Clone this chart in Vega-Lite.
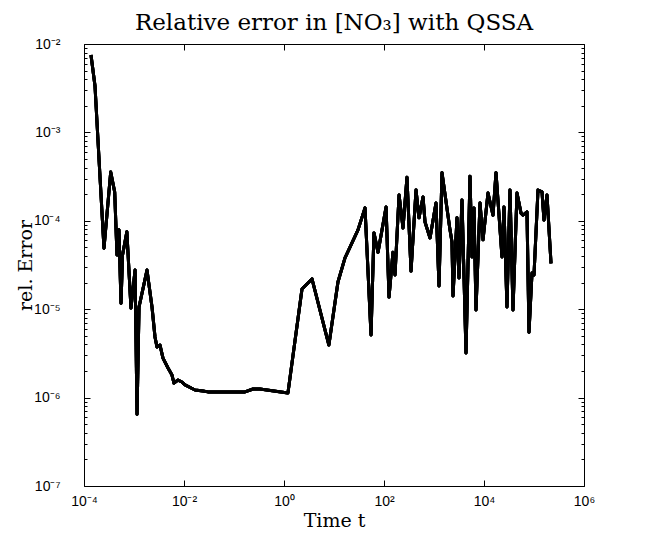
{
  "$schema": "https://vega.github.io/schema/vega-lite/v6.json",
  "autosize": {"type": "none"},
  "width": 500,
  "height": 442,
  "padding": {"left": 84, "top": 44, "right": 62, "bottom": 54},
  "background": "white",
  "title": {"text": "Relative error in [NO₃] with QSSA", "font": "DejaVu Serif", "fontSize": 23, "fontWeight": "normal", "color": "black", "offset": 2, "anchor": "middle"},
  "config": {
    "view": {"stroke": null},
    "axis": {"domainColor": "black", "tickColor": "black", "labelColor": "black", "grid": false, "labelFont": "Liberation Sans", "labelFontSize": 14, "titleFont": "DejaVu Serif", "titleFontSize": 19, "titleFontWeight": "normal", "titleColor": "black", "domainWidth": 1, "tickWidth": 1}
  },
  "data": {"values": [
    {"t": 1.38e-4, "err": 7.5e-3},
    {"t": 1.66e-4, "err": 3.35e-3},
    {"t": 2.0e-4, "err": 4.9e-4},
    {"t": 2.51e-4, "err": 4.9e-5},
    {"t": 3.42e-4, "err": 3.56e-4},
    {"t": 4.11e-4, "err": 2.12e-4},
    {"t": 4.57e-4, "err": 4.1e-5},
    {"t": 5.0e-4, "err": 7.9e-5},
    {"t": 5.5e-4, "err": 1.17e-5},
    {"t": 5.9e-4, "err": 4.1e-5},
    {"t": 7.2e-4, "err": 7.5e-5},
    {"t": 8.7e-4, "err": 1.03e-5},
    {"t": 1.05e-3, "err": 2.77e-5},
    {"t": 1.15e-3, "err": 6.5e-7},
    {"t": 1.26e-3, "err": 1.06e-5},
    {"t": 1.82e-3, "err": 2.77e-5},
    {"t": 2.29e-3, "err": 1.06e-5},
    {"t": 2.63e-3, "err": 4.85e-6},
    {"t": 2.88e-3, "err": 3.73e-6},
    {"t": 3.31e-3, "err": 3.93e-6},
    {"t": 3.8e-3, "err": 2.8e-6},
    {"t": 4.79e-3, "err": 2.16e-6},
    {"t": 5.75e-3, "err": 1.8e-6},
    {"t": 6.3e-3, "err": 1.46e-6},
    {"t": 7.6e-3, "err": 1.58e-6},
    {"t": 9.1e-3, "err": 1.5e-6},
    {"t": 1.05e-2, "err": 1.39e-6},
    {"t": 1.66e-2, "err": 1.22e-6},
    {"t": 2.4e-2, "err": 1.19e-6},
    {"t": 3.0e-2, "err": 1.16e-6},
    {"t": 0.166, "err": 1.16e-6},
    {"t": 0.24, "err": 1.25e-6},
    {"t": 0.33, "err": 1.25e-6},
    {"t": 1.2, "err": 1.13e-6},
    {"t": 2.29, "err": 1.69e-5},
    {"t": 3.63, "err": 2.2e-5},
    {"t": 7.9, "err": 3.93e-6},
    {"t": 12.0, "err": 2.03e-5},
    {"t": 16.6, "err": 3.8e-5},
    {"t": 30.2, "err": 7.9e-5},
    {"t": 41.7, "err": 1.4e-4},
    {"t": 55, "err": 5.1e-6},
    {"t": 63, "err": 7.3e-5},
    {"t": 76, "err": 4.4e-5},
    {"t": 110, "err": 1.43e-4},
    {"t": 126, "err": 1.37e-5},
    {"t": 151, "err": 4.4e-5},
    {"t": 166, "err": 2.44e-5},
    {"t": 200, "err": 1.96e-4},
    {"t": 240, "err": 8.3e-5},
    {"t": 288, "err": 3.1e-4},
    {"t": 347, "err": 2.7e-5},
    {"t": 437, "err": 2.23e-4},
    {"t": 501, "err": 1.08e-4},
    {"t": 603, "err": 1.86e-4},
    {"t": 661, "err": 9.7e-5},
    {"t": 832, "err": 6.4e-5},
    {"t": 1096, "err": 1.59e-4},
    {"t": 1259, "err": 1.83e-5},
    {"t": 1445, "err": 3.5e-4},
    {"t": 2089, "err": 7.9e-5},
    {"t": 2291, "err": 5.75e-5},
    {"t": 2399, "err": 1.41e-5},
    {"t": 2884, "err": 1.08e-4},
    {"t": 3162, "err": 2.25e-5},
    {"t": 3631, "err": 1.72e-4},
    {"t": 4365, "err": 3.2e-6},
    {"t": 5248, "err": 3.2e-4},
    {"t": 5754, "err": 3.9e-5},
    {"t": 6310, "err": 1.4e-4},
    {"t": 6918, "err": 9.8e-6},
    {"t": 8318, "err": 1.59e-4},
    {"t": 9550, "err": 6.1e-5},
    {"t": 12020, "err": 2.06e-4},
    {"t": 15140, "err": 1.16e-4},
    {"t": 17380, "err": 3.5e-4},
    {"t": 22900, "err": 3.9e-5},
    {"t": 25100, "err": 1.43e-4},
    {"t": 28800, "err": 1.06e-5},
    {"t": 33100, "err": 2.23e-4},
    {"t": 38000, "err": 9.8e-6},
    {"t": 45700, "err": 2.06e-4},
    {"t": 55000, "err": 1.22e-4},
    {"t": 60300, "err": 1.16e-4},
    {"t": 72400, "err": 1.26e-4},
    {"t": 79400, "err": 5.5e-6},
    {"t": 91200, "err": 2.57e-5},
    {"t": 100000, "err": 2.44e-5},
    {"t": 120200, "err": 2.23e-4},
    {"t": 144500, "err": 2.12e-4},
    {"t": 158500, "err": 1.02e-4},
    {"t": 182000, "err": 1.96e-4},
    {"t": 218800, "err": 3.3e-5}
  ]},
  "resolve": {"axis": {"x": "independent", "y": "independent"}},
  "layer": [
    {
      "mark": {"type": "line", "color": "black", "strokeWidth": 3, "strokeJoin": "round", "clip": true},
      "encoding": {
        "x": {"field": "t", "type": "quantitative", "scale": {"type": "log", "domain": [0.0001, 1000000], "nice": false},
          "axis": {"orient": "bottom", "title": "Time t", "values": [0.0001, 0.01, 1, 100, 10000, 1000000], "labelExpr": "{'-4':'10⁻⁴','-2':'10⁻²','0':'10⁰','2':'10²','4':'10⁴','6':'10⁶'}['' + round(log(datum.value)/LN10)]", "tickSize": -6, "labelPadding": 14, "titlePadding": 3, "labelFlush": false, "labelOverlap": false}},
        "y": {"field": "err", "type": "quantitative", "scale": {"type": "log", "domain": [1e-7, 0.01], "nice": false},
          "axis": {"orient": "left", "title": "rel. Error", "values": [1e-7, 1e-6, 1e-5, 1e-4, 1e-3, 1e-2], "labelExpr": "{'-7':'10⁻⁷','-6':'10⁻⁶','-5':'10⁻⁵','-4':'10⁻⁴','-3':'10⁻³','-2':'10⁻²'}['' + round(log(datum.value)/LN10)]", "tickSize": -6, "labelPadding": 30, "titlePadding": -2, "labelFlush": false, "labelOverlap": false}}
      }
    },
    {
      "mark": {"type": "line", "color": "black", "strokeWidth": 3, "strokeJoin": "round", "clip": true},
      "encoding": {
        "x": {"field": "t", "type": "quantitative", "scale": {"type": "log", "domain": [0.0001, 1000000], "nice": false},
          "axis": {"orient": "top", "title": null, "labels": false, "values": [0.0001, 0.01, 1, 100, 10000, 1000000], "tickSize": -6}},
        "y": {"field": "err", "type": "quantitative", "scale": {"type": "log", "domain": [1e-7, 0.01], "nice": false},
          "axis": {"orient": "right", "title": null, "labels": false, "values": [1e-7, 1e-6, 1e-5, 1e-4, 1e-3, 1e-2], "tickSize": -6}}
      }
    },
    {
      "mark": {"type": "line", "color": "black", "strokeWidth": 3, "strokeJoin": "round", "clip": true},
      "encoding": {
        "x": {"field": "t", "type": "quantitative", "scale": {"type": "log", "domain": [0.0001, 1000000], "nice": false}, "axis": null},
        "y": {"field": "err", "type": "quantitative", "scale": {"type": "log", "domain": [1e-7, 0.01], "nice": false},
          "axis": {"orient": "left", "title": null, "labels": false, "domain": false, "tickSize": -3,
            "values": [2e-7,3e-7,4e-7,5e-7,6e-7,7e-7,8e-7,9e-7,2e-6,3e-6,4e-6,5e-6,6e-6,7e-6,8e-6,9e-6,2e-5,3e-5,4e-5,5e-5,6e-5,7e-5,8e-5,9e-5,2e-4,3e-4,4e-4,5e-4,6e-4,7e-4,8e-4,9e-4,2e-3,3e-3,4e-3,5e-3,6e-3,7e-3,8e-3,9e-3]}}
      }
    },
    {
      "mark": {"type": "line", "color": "black", "strokeWidth": 3, "strokeJoin": "round", "clip": true},
      "encoding": {
        "x": {"field": "t", "type": "quantitative", "scale": {"type": "log", "domain": [0.0001, 1000000], "nice": false}, "axis": null},
        "y": {"field": "err", "type": "quantitative", "scale": {"type": "log", "domain": [1e-7, 0.01], "nice": false},
          "axis": {"orient": "right", "title": null, "labels": false, "domain": false, "tickSize": -3,
            "values": [2e-7,3e-7,4e-7,5e-7,6e-7,7e-7,8e-7,9e-7,2e-6,3e-6,4e-6,5e-6,6e-6,7e-6,8e-6,9e-6,2e-5,3e-5,4e-5,5e-5,6e-5,7e-5,8e-5,9e-5,2e-4,3e-4,4e-4,5e-4,6e-4,7e-4,8e-4,9e-4,2e-3,3e-3,4e-3,5e-3,6e-3,7e-3,8e-3,9e-3]}}
      }
    }
  ]
}
